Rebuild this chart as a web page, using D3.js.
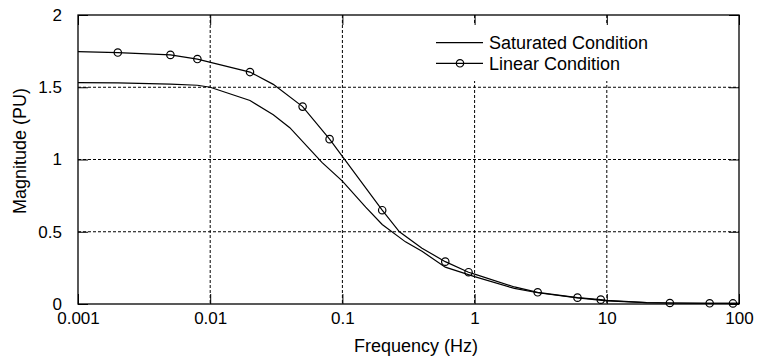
<!DOCTYPE html>
<html>
<head>
<meta charset="utf-8">
<script src="https://cdn.jsdelivr.net/npm/d3@7"></script>
<style>
  body { margin: 0; background: #fff; }
  svg { font-family: "Liberation Sans", Arial, sans-serif; }
</style>
</head>
<body>
<div class="data"></div>
<script>
// values
const satFreq = [0.001, 0.002, 0.005, 0.008, 0.01, 0.02, 0.03, 0.04, 0.07, 0.1, 0.15, 0.2, 0.3, 0.4, 0.6, 1, 2, 3, 6, 10, 20, 30, 60, 100]
const satMag  = [1.532, 1.53, 1.522, 1.514, 1.5, 1.408, 1.31, 1.22, 0.98, 0.85, 0.67, 0.55, 0.43, 0.365, 0.255, 0.189, 0.108, 0.078, 0.042, 0.022, 0.01, 0.007, 0.005, 0.004]

const linFreq = [0.001, 0.002, 0.005, 0.008, 0.02, 0.03, 0.05, 0.08, 0.2, 0.27, 0.4, 0.6, 0.9, 1, 2, 3, 6, 9, 10, 20, 30, 60, 90, 100]
const linMag  = [1.747, 1.74, 1.724, 1.695, 1.605, 1.52, 1.366, 1.141, 0.649, 0.5, 0.386, 0.293, 0.22, 0.207, 0.118, 0.081, 0.044, 0.03, 0.025, 0.01, 0.007, 0.005, 0.004, 0.004]

// only these points carry a circle
const markFreq = [0.002, 0.005, 0.008, 0.02, 0.05, 0.08, 0.2, 0.6, 0.9, 3, 6, 9, 30, 60, 90]
const markMag  = [1.74, 1.724, 1.695, 1.605, 1.366, 1.141, 0.649, 0.293, 0.22, 0.081, 0.044, 0.03, 0.007, 0.005, 0.004]

const xTicks = [0.001, 0.01, 0.1, 1, 10, 100]
const xTickLabels = ["0.001", "0.01", "0.1", "1", "10", "100"]
const yTicks = [0, 0.5, 1, 1.5, 2]
const yTickLabels = ["0", "0.5", "1", "1.5", "2"]
const seriesNames = ["Saturated Condition", "Linear Condition"]

const W = 757, H = 363
const plotLeft = 78, plotRight = 739, plotTop = 15, plotBottom = 304

const x = d3.scaleLog().domain([0.001, 100]).range([plotLeft, plotRight])
const y = d3.scaleLinear().domain([0, 2]).range([plotBottom, plotTop])

const svg = d3.select(".data").append("svg")
    .attr("width", W)
    .attr("height", H)

// dashed grid
svg.append("g")
    .selectAll("line")
    .data(xTicks.slice(1, -1))
    .enter().append("line")
    .attr("x1", d => x(d)).attr("x2", d => x(d))
    .attr("y1", plotTop).attr("y2", plotBottom)
    .attr("stroke", "#000")
    .attr("stroke-width", 1)
    .attr("stroke-dasharray", "3,2")

svg.append("g")
    .selectAll("line")
    .data(yTicks.slice(1, -1))
    .enter().append("line")
    .attr("x1", plotLeft).attr("x2", plotRight)
    .attr("y1", d => y(d)).attr("y2", d => y(d))
    .attr("stroke", "#000")
    .attr("stroke-width", 1)
    .attr("stroke-dasharray", "3,2")

// axes, ticks point inward
const fmtX = d => xTickLabels[xTicks.indexOf(d)]
const fmtY = d => yTickLabels[yTicks.indexOf(d)]

svg.append("g")
    .attr("transform", "translate(0," + plotBottom + ")")
    .call(d3.axisBottom(x).tickValues(xTicks).tickFormat(fmtX).tickSize(-10).tickSizeOuter(0).tickPadding(8))
svg.append("g")
    .attr("transform", "translate(0," + plotTop + ")")
    .call(d3.axisTop(x).tickValues(xTicks).tickFormat("").tickSize(-10).tickSizeOuter(0))
svg.append("g")
    .attr("transform", "translate(" + plotLeft + ",0)")
    .call(d3.axisLeft(y).tickValues(yTicks).tickFormat(fmtY).tickSize(-10).tickSizeOuter(0).tickPadding(16))
svg.append("g")
    .attr("transform", "translate(" + plotRight + ",0)")
    .call(d3.axisRight(y).tickValues(yTicks).tickFormat("").tickSize(-10).tickSizeOuter(0))

svg.selectAll(".tick text")
    .attr("fill", "#000")
    .style("font-size", "17px")
svg.selectAll(".tick line").attr("stroke", "#000")
svg.selectAll(".domain").remove()

// frame
svg.append("rect")
    .attr("x", plotLeft).attr("y", plotTop)
    .attr("width", plotRight - plotLeft).attr("height", plotBottom - plotTop)
    .attr("fill", "none")
    .attr("stroke", "#000")
    .attr("stroke-width", 1.3)

// curves
const line = d3.line()
    .x(d => x(d[0]))
    .y(d => y(d[1]))

svg.append("path")
    .datum(satFreq.map((f, i) => [f, satMag[i]]))
    .attr("d", line)
    .attr("fill", "none")
    .attr("stroke", "#000")
    .attr("stroke-width", 1.2)

svg.append("path")
    .datum(linFreq.map((f, i) => [f, linMag[i]]))
    .attr("d", line)
    .attr("fill", "none")
    .attr("stroke", "#000")
    .attr("stroke-width", 1.2)

svg.append("g")
    .selectAll("circle")
    .data(markFreq.map((f, i) => [f, markMag[i]]))
    .enter().append("circle")
    .attr("cx", d => x(d[0]))
    .attr("cy", d => y(d[1]))
    .attr("r", 3.7)
    .attr("fill", "none")
    .attr("stroke", "#000")
    .attr("stroke-width", 1.2)

// legend on a white patch
const legend = svg.append("g")
legend.append("rect")
    .attr("x", 430).attr("y", 25)
    .attr("width", 232).attr("height", 56)
    .attr("fill", "#fff")

const item = legend.selectAll(".item")
    .data(seriesNames)
    .enter().append("g")
    .attr("class", "item")
    .attr("transform", (d, i) => "translate(0," + (42.7 + i * 20.6) + ")")

item.append("line")
    .attr("x1", 436).attr("x2", 483)
    .attr("stroke", "#000")
    .attr("stroke-width", 1.2)

item.filter((d, i) => i === 1).append("circle")
    .attr("cx", 460).attr("r", 3.7)
    .attr("fill", "none")
    .attr("stroke", "#000")
    .attr("stroke-width", 1.2)

item.append("text")
    .attr("x", 489)
    .attr("dy", "0.35em")
    .style("font-size", "18px")
    .text(d => d)

// axis titles
svg.append("text")
    .attr("x", 416).attr("y", 352)
    .attr("text-anchor", "middle")
    .style("font-size", "18px")
    .text("Frequency (Hz)")

svg.append("text")
    .attr("transform", "translate(26,151) rotate(-90)")
    .attr("text-anchor", "middle")
    .style("font-size", "18px")
    .text("Magnitude (PU)")
</script>
</body>
</html>
